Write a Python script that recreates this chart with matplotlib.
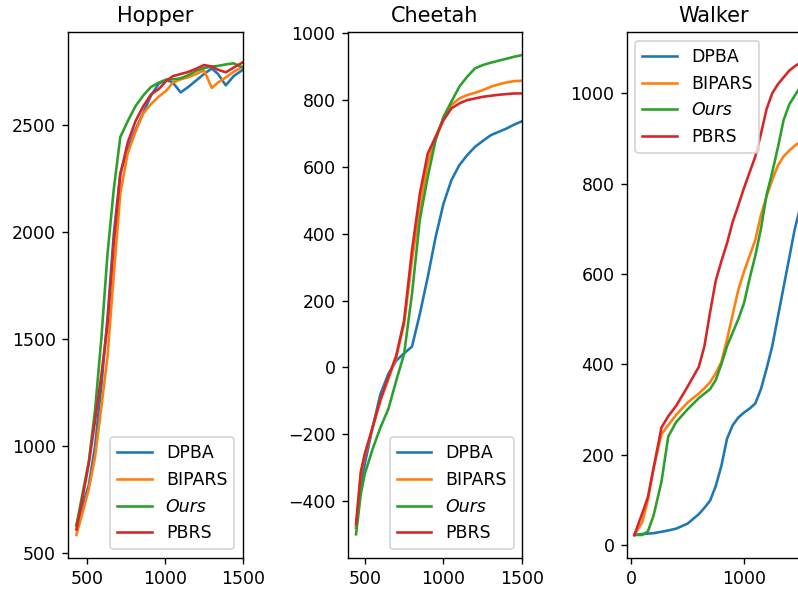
import matplotlib
matplotlib.use('Agg')
from matplotlib import pyplot as plt

labels = ['DPBA', 'BIPARS', 'Ours', 'PBRS']

# Hopper
hopper_x = [430, 470, 510, 550, 590, 630, 670, 712, 760, 810, 860, 910, 960, 1010,
            1050, 1100, 1150, 1200, 1250, 1300, 1340, 1390, 1440, 1500]
hopper_dpba = [630, 720, 820, 1000, 1280, 1600, 1990, 2275, 2390, 2480, 2560, 2640, 2696, 2712,
               2700, 2654, 2680, 2710, 2740, 2766, 2740, 2687, 2730, 2760]
hopper_bipars = [585, 690, 800, 950, 1180, 1420, 1800, 2180, 2370, 2470, 2556, 2600, 2635, 2664,
                 2700, 2715, 2725, 2740, 2757, 2675, 2700, 2724, 2750, 2775]
hopper_ours = [630, 780, 930, 1170, 1500, 1900, 2200, 2445, 2520, 2590, 2640, 2680, 2700, 2715,
               2715, 2720, 2735, 2755, 2768, 2775, 2778, 2785, 2790, 2770]
hopper_pbrs = [610, 760, 920, 1120, 1330, 1570, 1950, 2270, 2420, 2520, 2590, 2645, 2670, 2710,
               2730, 2740, 2750, 2765, 2782, 2775, 2760, 2748, 2770, 2795]

# Cheetah
cheetah_x = [445, 475, 500, 550, 600, 650, 700, 750, 800, 850, 900, 950, 1000, 1050,
             1100, 1150, 1200, 1250, 1300, 1350, 1400, 1450, 1500]
cheetah_dpba = [-480, -350, -290, -180, -80, -20, 20, 42, 62, 160, 270, 390, 490, 560,
                605, 635, 660, 678, 695, 705, 715, 727, 737]
cheetah_bipars = [-480, -320, -265, -180, -100, -35, 30, 130, 320, 480, 610, 690, 745, 785,
                  805, 815, 822, 830, 840, 847, 853, 857, 858]
cheetah_ours = [-500, -380, -320, -245, -180, -125, -40, 40, 220, 443, 570, 680, 750, 795,
                840, 870, 895, 905, 912, 918, 924, 930, 935]
cheetah_pbrs = [-470, -314, -260, -180, -96, -30, 35, 140, 350, 520, 640, 690, 740, 775,
                790, 800, 805, 810, 813, 816, 818, 820, 820]

# Walker
walker_x = [30, 100, 150, 200, 270, 330, 400, 500, 600, 650, 700, 750, 800, 850, 900, 950,
            1000, 1050, 1100, 1150, 1200, 1250, 1300, 1350, 1400, 1450, 1500]
walker_dpba = [22, 24, 25, 26, 29, 32, 36, 47, 68, 82, 98, 130, 175, 235, 265, 282,
               293, 302, 313, 345, 390, 440, 505, 570, 635, 700, 750]
walker_bipars = [22, 50, 100, 170, 245, 265, 288, 315, 335, 347, 360, 380, 405, 455, 510, 565,
                 605, 640, 675, 730, 772, 808, 840, 860, 873, 884, 893]
walker_ours = [22, 22, 30, 65, 140, 240, 272, 300, 325, 335, 345, 365, 400, 440, 470, 500,
               535, 590, 640, 700, 775, 825, 880, 940, 975, 995, 1015]
walker_pbrs = [22, 70, 106, 170, 260, 285, 308, 350, 394, 440, 515, 585, 628, 668, 715, 752,
               790, 825, 860, 910, 965, 1000, 1020, 1035, 1050, 1060, 1068]


def draw(ax, x, series, title, xlim, ylim, loc):
	for y, lab in zip(series, labels):
		ax.plot(x, y, label=lab)
	ax.set_title(title)
	ax.set_xlim(*xlim)
	ax.set_ylim(*ylim)
	leg = ax.legend(loc=loc)
	leg.get_texts()[2].set_fontstyle('italic')


def main():
	fig = plt.figure(figsize=(798 / 125, 594 / 125), dpi=125)
	w = 0.2188
	h = 0.885
	b = 0.0606
	ax1 = fig.add_axes([0.0856, b, w, h])
	ax2 = fig.add_axes([0.4357, b, w, h])
	ax3 = fig.add_axes([0.7853, b, w, h])

	draw(ax1, hopper_x, [hopper_dpba, hopper_bipars, hopper_ours, hopper_pbrs],
		'Hopper', (378, 1500), (477, 2935), 'lower right')
	ax1.set_xticks([500, 1000, 1500])
	ax1.set_yticks([500, 1000, 1500, 2000, 2500])

	draw(ax2, cheetah_x, [cheetah_dpba, cheetah_bipars, cheetah_ours, cheetah_pbrs],
		'Cheetah', (392, 1500), (-571, 1003), 'lower right')
	ax2.set_xticks([500, 1000, 1500])

	draw(ax3, walker_x, [walker_dpba, walker_bipars, walker_ours, walker_pbrs],
		'Walker', (-38, 1507), (-29, 1135), 'upper left')
	ax3.set_xticks([0, 1000])

	fig.savefig('out.png', dpi=125)


if __name__ == "__main__":
	main()
